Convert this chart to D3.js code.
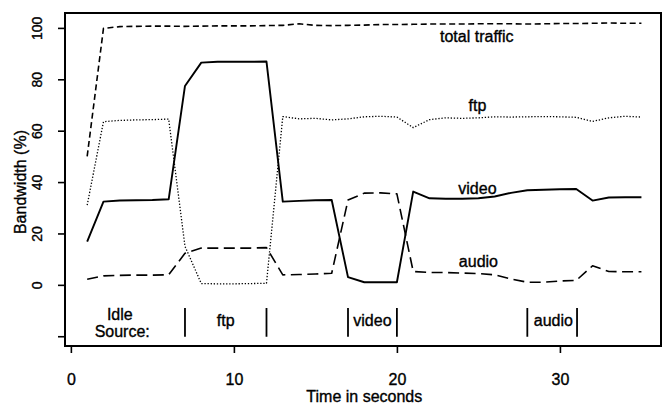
<!DOCTYPE html>
<html>
<head>
<meta charset="utf-8">
<script src="https://cdn.jsdelivr.net/npm/d3@7"></script>
<style>
  html, body { margin: 0; padding: 0; background: #fff; }
  svg { display: block; font-family: "Liberation Sans", Arial, Helvetica, sans-serif; }
  svg text { fill: #000; stroke: #000; stroke-width: 0.35px; }
</style>
</head>
<body>
<svg id="chart" width="662" height="405"></svg>
<script>
// ---- data ----
const time = [1,2,3,4,5,6,7,8,9,10,11,12,13,14,15,16,17,18,19,20,21,22,23,24,25,26,27,28,29,30,31,32,33,34,35];
const totalTraffic = [50, 99.8, 100.5, 100.6, 100.7, 100.7, 100.6, 100.7, 100.8, 100.8, 100.8, 100.9, 101, 101.6, 101, 100.9, 101, 101.1, 101.3, 101.3, 101.4, 101.5, 101.5, 101.5, 101.6, 101.6, 101.6, 101.5, 101.6, 101.7, 101.7, 101.8, 101.9, 101.8, 101.8];
const ftp = [31, 63.5, 64, 64.2, 64.3, 64.5, 15, 0.5, 0.4, 0.4, 0.5, 0.6, 65.5, 64.6, 64.8, 64.2, 64.6, 65.4, 65.6, 65.3, 61.2, 64.3, 65, 64.8, 65, 65.4, 65.3, 65.4, 65.5, 65.4, 65.2, 63.6, 65, 65.6, 65.3];
const video = [16.8, 32.4, 32.8, 32.9, 33, 33.3, 77.4, 86.5, 86.8, 86.8, 86.8, 86.9, 32.4, 32.7, 32.9, 33, 3, 1, 1, 1, 36.3, 33.7, 33.5, 33.5, 33.7, 34.4, 35.8, 36.8, 37, 37.2, 37.3, 32.8, 34, 34.1, 34.1];
const audio = [2.2, 3.5, 3.7, 3.8, 3.8, 3.9, 12.3, 14.3, 14.3, 14.3, 14.3, 14.5, 3.9, 4, 4.2, 4.5, 33, 35.7, 35.8, 35.4, 5.2, 4.8, 4.8, 4.6, 4.4, 3.9, 2.3, 1.0, 1.0, 1.5, 1.7, 7.4, 5.2, 5.1, 5.1];

const seriesNames = ["total traffic", "ftp", "video", "audio"];
const xTicks = [0, 10, 20, 30];
const yTicks = [-20, 0, 20, 40, 60, 80, 100];
const yTickLabels = ["", "0", "20", "40", "60", "80", "100"];
const xTitle = "Time in seconds";
const yTitle = "Bandwidth (%)";

// idle source periods (seconds)
const idleSources = ["ftp", "video", "audio"];
const idleStart = [7, 17, 28];
const idleEnd = [12, 20, 31.05];
const idleHeading = ["Idle", "Source:"];

// ---- layout ----
const svg = d3.select("#chart");
const mLeft = 65, mRight = 663.6, mTop = 13, mBottom = 346;

const x = d3.scaleLinear().domain([-0.36, 36.36]).range([mLeft, mRight]);
const y = d3.scaleLinear().domain([-23.8, 105.8]).range([mBottom, mTop]);

svg.append("rect").attr("width", 662).attr("height", 405).attr("fill", "#fff");

// frame
svg.append("rect")
  .attr("x", mLeft).attr("y", mTop)
  .attr("width", 661 - mLeft).attr("height", mBottom - mTop)
  .attr("fill", "none").attr("stroke", "#000").attr("stroke-width", 2);

// axes
const xAxis = svg.append("g")
  .attr("transform", `translate(0,${mBottom})`)
  .call(d3.axisBottom(x).tickValues(xTicks).tickSize(7).tickSizeOuter(0).tickFormat(d3.format("d")));
xAxis.select(".domain").remove();
xAxis.selectAll("line").attr("stroke", "#000").attr("stroke-width", 1.6);
xAxis.selectAll("text").attr("y", 39).attr("dy", 0)
  .attr("font-size", 16).attr("fill", "#000")
  .attr("font-family", "Liberation Sans, Arial, sans-serif");

const yAxis = svg.append("g")
  .attr("transform", `translate(${mLeft},0)`)
  .call(d3.axisLeft(y).tickValues(yTicks).tickSize(7).tickSizeOuter(0)
    .tickFormat((d, i) => yTickLabels[i]));
yAxis.select(".domain").remove();
yAxis.selectAll("line").attr("stroke", "#000").attr("stroke-width", 1.6);
yAxis.selectAll("text")
  .attr("x", 0).attr("dy", 0).attr("y", 0)
  .attr("text-anchor", "middle")
  .attr("transform", "translate(-23,0) rotate(-90)")
  .attr("font-size", 14).attr("fill", "#000")
  .attr("font-family", "Liberation Sans, Arial, sans-serif");

// axis titles
svg.append("text")
  .attr("x", (mLeft + mRight) / 2).attr("y", 402)
  .attr("text-anchor", "middle").attr("font-size", 16).text(xTitle);
svg.append("text")
  .attr("transform", `translate(26,${(y(-20) + y(100)) / 2}) rotate(-90)`)
  .attr("text-anchor", "middle").attr("font-size", 16).text(yTitle);

// lines
const allSeries = [totalTraffic, ftp, video, audio];
const dash = ["6,3.5", "1.3,1.8", null, "11,5.5"];
const widths = [1.6, 1.3, 1.9, 1.6];
const line = d3.line().x((d, i) => x(time[i])).y(d => y(d));
allSeries.forEach((s, k) => {
  svg.append("path")
    .datum(s)
    .attr("d", line)
    .attr("fill", "none")
    .attr("stroke", "#000")
    .attr("stroke-width", widths[k])
    .attr("stroke-dasharray", dash[k])
    .attr("stroke-linejoin", "round");
});

// series labels (placed in data units)
const labelT = [24.9, 24.94, 24.94, 25.0];
const labelV = [94.5, 67.7, 35.4, 7.0];
seriesNames.forEach((n, k) => {
  svg.append("text")
    .attr("x", x(labelT[k])).attr("y", y(labelV[k]))
    .attr("text-anchor", "middle").attr("font-size", 16).text(n);
});

// idle source annotations
svg.append("text").attr("x", x(3.0)).attr("y", y(-13.6))
  .attr("text-anchor", "middle").attr("font-size", 16).text(idleHeading[0]);
svg.append("text").attr("x", x(3.15)).attr("y", y(-20.2))
  .attr("text-anchor", "middle").attr("font-size", 16).text(idleHeading[1]);

idleSources.forEach((n, k) => {
  [idleStart[k], idleEnd[k]].forEach(t => {
    svg.append("line")
      .attr("x1", x(t)).attr("x2", x(t))
      .attr("y1", y(-9)).attr("y2", y(-20.2))
      .attr("stroke", "#000").attr("stroke-width", 1.8);
  });
});
const idleLabelT = [9.5, 18.5, 29.6];
idleSources.forEach((n, k) => {
  svg.append("text")
    .attr("x", x(idleLabelT[k])).attr("y", y(-15.9))
    .attr("text-anchor", "middle").attr("font-size", 16).text(n);
});
</script>
</body>
</html>
